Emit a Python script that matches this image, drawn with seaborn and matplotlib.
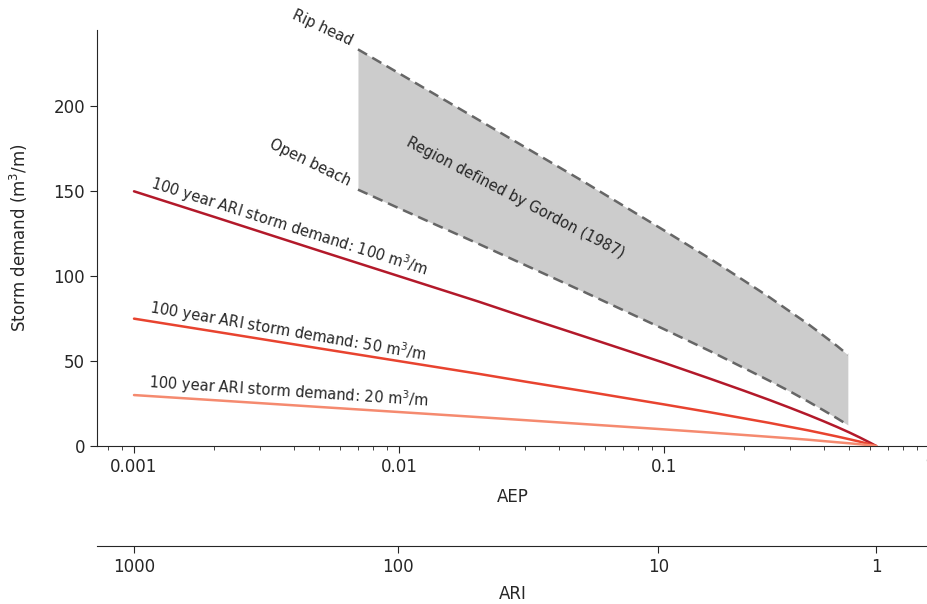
import numpy as np
import matplotlib
matplotlib.use("Agg")
import matplotlib.pyplot as plt
from matplotlib.ticker import FixedLocator, FixedFormatter, NullLocator
import seaborn as sns

# Annual exceedance probability at which the design curves are sampled
aep_curve = [0.001, 0.002, 0.005, 0.01, 0.02, 0.03, 0.05, 0.07, 0.1, 0.15,
             0.2, 0.25, 0.3, 0.35, 0.4, 0.45, 0.5, 0.55, 0.6, 0.632]
# Storm demand (m3/m) for three 100-year ARI design demands
demand_100 = [150, 135, 115, 100, 85, 75.8, 64.5, 57, 49, 39.5,
              32.6, 27.1, 22.4, 18.3, 14.6, 11.2, 8, 4.9, 1.9, 0]
demand_50 = [75, 67.5, 57.5, 50, 42.5, 37.9, 32.3, 28.5, 24.5, 19.8,
             16.3, 13.6, 11.2, 9.2, 7.3, 5.6, 4, 2.5, 1, 0]
demand_20 = [30, 27, 23, 20, 17, 15.2, 12.9, 11.4, 9.8, 7.9,
             6.5, 5.4, 4.5, 3.7, 2.9, 2.2, 1.6, 1, 0.4, 0]
design_levels = [100, 50, 20]
line_colors = ["#b3192a", "#e8432f", "#f58a6f"]

# Gordon (1987) envelope
aep_gordon = [0.007, 0.01, 0.02, 0.05, 0.1, 0.15, 0.2, 0.25, 0.3, 0.35,
              0.4, 0.45, 0.494]
rip_head = [233.6, 219.5, 192, 155.5, 127, 110.1, 97.5, 87.6, 79, 71.8,
            65, 58.9, 53.7]
open_beach = [151, 140, 119, 90.7, 68.8, 55.7, 46, 38.4, 32, 26.2,
              21, 16.3, 12.4]

ari_ticks = [1000, 100, 10, 1]
y_ticks = [0, 50, 100, 150, 200]


def aep_to_ari(p):
    p = np.clip(np.asarray(p, dtype=float), 1e-12, 1 - 1e-12)
    return -1.0 / np.log1p(-p)


def ari_to_aep(t):
    t = np.clip(np.asarray(t, dtype=float), 1e-12, None)
    return -np.expm1(-1.0 / t)


sns.set_style("ticks")
plt.rcParams["font.family"] = ["DejaVu Sans"]
plt.rcParams["font.size"] = 12

fig = plt.figure(figsize=(9.28, 6.04), dpi=100)
ax = fig.add_axes([97 / 928, 158 / 604, (929 - 97) / 928, 416 / 604])

# Gordon region
ax.fill_between(aep_gordon, open_beach, rip_head, color="#cccccc", lw=0, zorder=1)
for bound in (rip_head, open_beach):
    sns.lineplot(x=aep_gordon, y=bound, ax=ax, color="#666666", lw=1.8,
                 zorder=2).lines[-1].set_dashes((4.2, 2.4))

# Design storm demand curves
for vals, col in zip([demand_100, demand_50, demand_20], line_colors):
    sns.lineplot(x=aep_curve, y=vals, ax=ax, color=col, lw=1.8, zorder=3)

ax.set_xscale("log")
ax.set_xlim(0.000725, 1.0)
ax.set_ylim(0, 245)
ax.set_yticks(y_ticks)
ax.tick_params(axis="both", labelsize=12, length=5, color=".15")
ax.tick_params(axis="x", which="minor", length=3)
ax.set_xticks([0.001, 0.01, 0.1, 1])
ax.set_xticklabels(["0.001", "0.01", "0.1", "1"])
ax.set_xlabel("AEP", fontsize=12, labelpad=9)
ax.set_ylabel("Storm demand (m$^3$/m)", fontsize=12, labelpad=17)
sns.despine(ax=ax)

# Line labels
label_rot = [-17.6, -9.8, -3.8]
label_y = [149, 75.5, 31]
for lvl, r, yy in zip(design_levels, label_rot, label_y):
    ax.text(0.00113, yy, f"100 year ARI storm demand: {lvl} m$^3$/m",
            rotation=r, rotation_mode="anchor", ha="left", va="bottom",
            fontsize=10.5, color=".15")

ax.text(0.0274, 146, "Region defined by Gordon (1987)", rotation=-27.6,
        rotation_mode="anchor", ha="center", va="center", fontsize=10.5, color=".15")
ax.text(0.00516, 246, "Rip head", rotation=-25, rotation_mode="anchor",
        ha="center", va="center", fontsize=10.5, color=".15")
ax.text(0.00461, 167, "Open beach", rotation=-26, rotation_mode="anchor",
        ha="center", va="center", fontsize=10.5, color=".15")

# ARI axis below the AEP axis
sec = ax.secondary_xaxis(-0.24, functions=(aep_to_ari, ari_to_aep))
sec.xaxis.set_major_locator(FixedLocator(ari_ticks))
sec.xaxis.set_major_formatter(FixedFormatter([str(t) for t in ari_ticks]))
sec.xaxis.set_minor_locator(NullLocator())
sec.tick_params(axis="x", labelsize=12, length=5, color=".15")
sec.set_xlabel("ARI", fontsize=12, labelpad=7)
sec.spines["bottom"].set_color(".15")

fig.savefig("out.png", dpi=100)
